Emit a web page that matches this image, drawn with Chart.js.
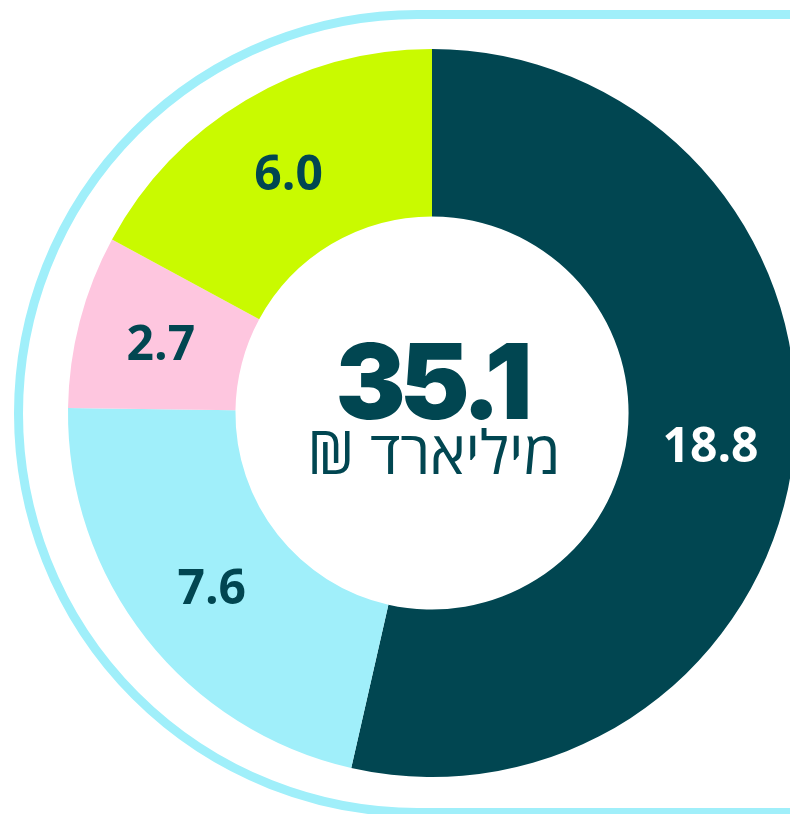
<!DOCTYPE html>
<html>
<head>
<meta charset="utf-8">
<script src="https://cdn.jsdelivr.net/npm/chart.js@4"></script>
<style>
  html, body { margin: 0; padding: 0; overflow: hidden; background: #fff; }
  #wrap { width: 800px; height: 814px; }
</style>
</head>
<body>
<div id="wrap"><canvas id="chart" width="800" height="814"></canvas></div>
<script>
'use strict'

// chart data
const categories = ['A', 'B', 'C', 'D']
const values = [18.8, 7.6, 2.7, 6.0]
const sliceColors = ['#014651', '#a0effa', '#fec6df', '#c9fa00']
const labelColors = ['#ffffff', '#014651', '#014651', '#014651']
const totalLabel = '35.1'
const unitLabel = 'מיליארד ₪'

const DARK = '#014651'

// light-blue half-stadium frame around the doughnut
const framePlugin = {
  id: 'frame',
  beforeDatasetsDraw (chart) {
    const arc = chart.getDatasetMeta(0).data[0]
    if (!arc) { return }
    const { ctx } = chart
    const cx = arc.x - 14.5
    const cy = arc.y + 0.5
    const r = arc.outerRadius + 35
    ctx.save()
    ctx.strokeStyle = '#a0effa'
    ctx.lineWidth = 9
    ctx.beginPath()
    ctx.moveTo(chart.width + 10, cy - r)
    ctx.lineTo(cx, cy - r)
    ctx.arc(cx, cy, r, -Math.PI / 2, Math.PI / 2, true)
    ctx.lineTo(chart.width + 10, cy + r)
    ctx.stroke()
    ctx.restore()
  }
}

// value labels on slices + total in the hole
const labelsPlugin = {
  id: 'sliceLabels',
  afterDatasetsDraw (chart) {
    const { ctx } = chart
    const meta = chart.getDatasetMeta(0)
    ctx.save()
    ctx.textAlign = 'center'
    ctx.textBaseline = 'middle'
    ctx.font = '700 48px "Open Sans"'
    meta.data.forEach((arc, i) => {
      const pos = arc.tooltipPosition()
      ctx.fillStyle = labelColors[i]
      ctx.fillText(values[i].toFixed(1), pos.x, pos.y + 4)
    })
    const c = meta.data[0]
    ctx.fillStyle = DARK
    ctx.font = '900 105px Inter'
    ctx.letterSpacing = '-6px'
    ctx.fillText(totalLabel, c.x - 1, c.y - 26)
    ctx.letterSpacing = '0px'
    ctx.font = '400 60px "Open Sans"'
    ctx.direction = 'rtl'
    ctx.fillText(unitLabel, c.x + 2, c.y + 44)
    ctx.restore()
  }
}

Chart.register(framePlugin, labelsPlugin)

new Chart(document.getElementById('chart'), {
  type: 'doughnut',
  data: {
    labels: categories,
    datasets: [{
      data: values,
      backgroundColor: sliceColors,
      borderWidth: 0,
      hoverOffset: 0
    }]
  },
  options: {
    responsive: false,
    animation: false,
    cutout: '54%',
    layout: {
      padding: { left: 68, top: 49, right: 4, bottom: 37 }
    },
    plugins: {
      legend: { display: false },
      tooltip: { enabled: false }
    }
  }
})
</script>
</body>
</html>
